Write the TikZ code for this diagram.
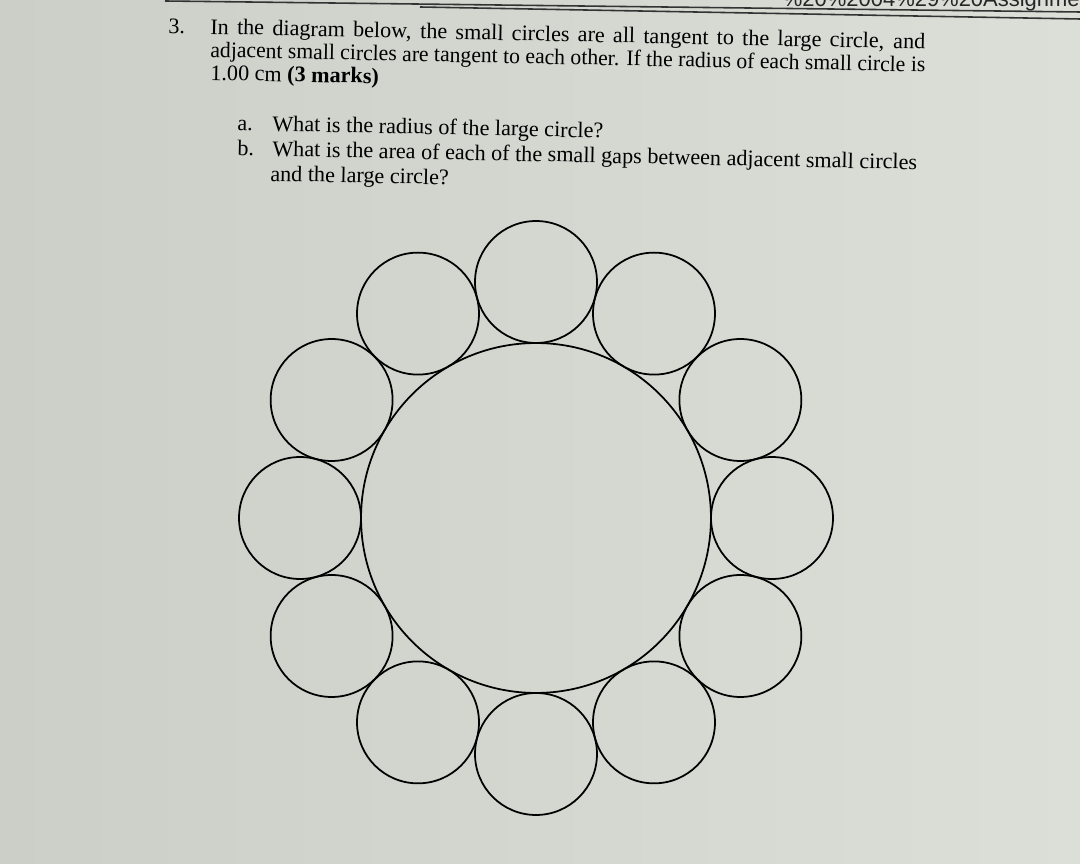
\documentclass[tikz,border=0pt]{standalone}
\usepackage{fontspec}
\setmainfont{Liberation Serif}
\newfontfamily\urlfont{Liberation Sans}
\usepackage{xcolor}
\usepackage{graphicx}
\usetikzlibrary{shapes,positioning}

\definecolor{screengrey}{RGB}{204,207,200}
\definecolor{screenlight}{RGB}{220,222,216}

\begin{document}
\begin{tikzpicture}[x=0.02cm, y=-0.02cm]
    \tikzstyle{line} = [anchor=base west, inner sep=0pt, rotate=-1.2, font=\fontsize{12.6}{14}\selectfont]
    \tikzstyle{bigcirc} = [circle, draw, line width=1pt, inner sep=0pt, minimum size=7cm]
    \tikzstyle{smallcirc} = [circle, draw, line width=1pt, inner sep=0pt, minimum size=2.44cm]

    % Screen background
    \useasboundingbox (0,0) rectangle (1080,864);
    \shade [left color=screengrey, right color=screenlight] (0,0) rectangle (1080,864);

    % Header rules and file name
    \coordinate (ruleAa) at (165,1);
    \coordinate (ruleAb) at (1080,12);
    \coordinate (ruleBa) at (420,7);
    \coordinate (ruleBb) at (1080,19);
    \draw [line width=0.9pt, black!80] (ruleAa) -- (ruleAb);
    \draw [line width=0.9pt, black!80] (ruleBa) -- (ruleBb);
    \node [anchor=base east, inner sep=0pt, font=\urlfont\fontsize{12.5}{14}\selectfont, black!85] (fname) at (1080,7) {\%20\%2004\%29\%20Assignme};

    % Question 3
    \node [line] (qnum) at (168,33) {3.};
    \node [line] (qline1) at (210,34) {\makebox[14.3cm][s]{In the diagram below, the small circles are all tangent to the large circle, and}};
    \node [line] (qline2) at (210,57) {\resizebox{14.3cm}{\height}{adjacent small circles are tangent to each other. If the radius of each small circle is}};
    \node [line] (qline3) at (210,80) {1.00 cm \textbf{(3 marks)}};

    % Parts a and b
    \node [line] (alabel) at (237,130) {a.};
    \node [line] (atext) at (272,131) {What is the radius of the large circle?};
    \node [line] (blabel) at (237,155) {b.};
    \node [line] (btext) at (272,156) {What is the area of each of the small gaps between adjacent small circles};
    \node [line] (btext2) at (270,181) {and the large circle?};

    % Large circle
    \node [bigcirc] (big) at (536,518) {};

    % Ring of small circles
    \foreach \i in {0,...,11}
        \node [smallcirc] (small\i) at ([shift={(\i*30:236)}]big.center) {};
\end{tikzpicture}
\end{document}
